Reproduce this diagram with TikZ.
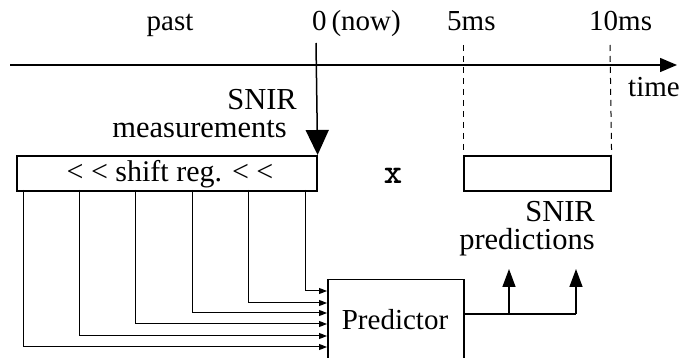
\documentclass[tikz,border=0pt]{standalone}
\usepackage{fontspec}
\setmainfont{Liberation Serif}
\newfontfamily\monob{Latin Modern Mono Light}
\usetikzlibrary{arrows.meta}
\tikzset{
  box/.style={draw, line width=1.6pt, inner sep=0pt, fill=white},
  lbl/.style={inner sep=0pt, font=\fontsize{29}{28}\selectfont},
  biglbl/.style={inner sep=0pt, font=\fontsize{30.5}{28}\selectfont},
  axisline/.style={line width=1.5pt, -{Triangle[length=17pt,width=14pt]}},
  nowarrow/.style={line width=1.5pt, -{Triangle[length=25pt,width=23pt]}},
  predarrow/.style={line width=1.5pt, -{Triangle[length=18pt,width=13pt]}},
  taparrow/.style={line width=1pt, -{Triangle[length=8pt,width=6pt]}},
  guide/.style={line width=1pt, dash pattern=on 6pt off 5pt},
}
\begin{document}
\begin{tikzpicture}[x=1pt,y=-1pt]
\clip (0,0) rectangle (681,358);
% top labels
\node[lbl, anchor=base] (past) at (170,31) {past};
\node[lbl, anchor=base west] (now) at (312,31) {0\,(now)};
\node[lbl, anchor=base west] (five) at (447,31) {5ms};
\node[lbl, anchor=base west] (ten) at (589,31) {10ms};
\node[lbl, anchor=base west] (time) at (628,97) {time};
% time axis
\coordinate (ax0) at (10,65);
\coordinate (ax1) at (677,65);
\draw[axisline] (ax0) -- (ax1);
% boxes
\node[box, minimum width=300pt, minimum height=35pt, anchor=north west] (shift) at (16,155) {};
\node[lbl, anchor=base] (shifttxt) at (170,182) {\fontsize{30}{30}\selectfont < < shift reg. < <};
\node[box, minimum width=147pt, minimum height=35pt, anchor=north west] (predbox) at (463,155) {};
\node[inner sep=0pt, anchor=base, font=\monob\bfseries\fontsize{35}{35}\selectfont] (x) at (393,184) {x};
% now arrow
\coordinate (nowtop) at (316,43);
\draw[nowarrow] (nowtop) -- (shift.north east);
% dashed guides
\coordinate (g5) at (463,45);
\coordinate (g10) at (610,45);
\draw[guide] (g5) -- (predbox.north west);
\draw[guide] (g10) -- (predbox.north east);
% SNIR labels
\node[biglbl, anchor=base east] (m1) at (297,110) {SNIR};
\node[biglbl, anchor=base east] (m2) at (287,138) {measurements};
\node[biglbl, anchor=base east] (p1) at (595,222) {SNIR};
\node[biglbl, anchor=base east] (p2) at (595,250) {predictions};
% predictor
\node[draw, line width=1.5pt, inner sep=0pt, minimum width=136pt, minimum height=110pt, anchor=north west] (pred) at (327,279) {};
\node[lbl, anchor=base] (predtxt) at (395,330) {Predictor};
% taps
\foreach \tx/\ty [count=\i] in {305/291, 248/303, 192/313, 135/324, 79/336, 23/347}{
  \coordinate (tap\i) at (\tx,190);
  \draw[taparrow] (tap\i) |- (pred.west |- 0,\ty);
}
% outputs
\coordinate (out) at (463,314);
\coordinate (o1) at (509,269);
\coordinate (o2) at (576,269);
\coordinate (ob) at (509,314);
\coordinate (oc) at (576,314);
\draw[line width=1.5pt] (out) -- (oc);
\draw[predarrow] (ob) -- (o1);
\draw[predarrow] (oc) -- (o2);
\end{tikzpicture}
\end{document}
